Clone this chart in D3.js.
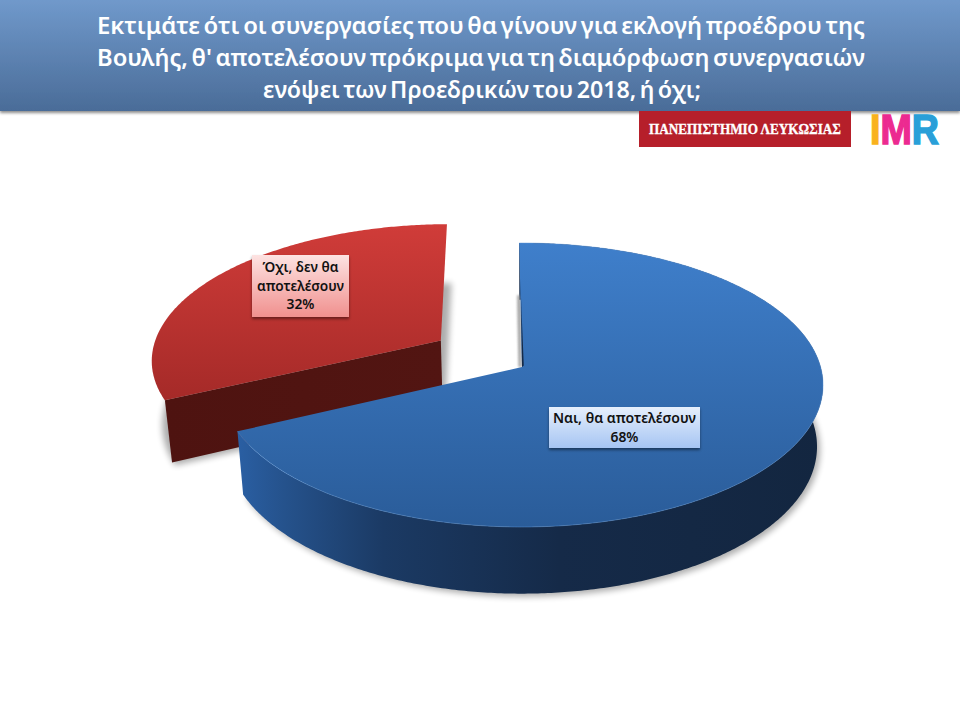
<!DOCTYPE html>
<html><head><meta charset="utf-8">
<script src="https://cdn.jsdelivr.net/npm/d3@7/dist/d3.min.js"></script>
<style>html,body{margin:0;padding:0;background:#fff}svg{display:block}</style>
</head><body><svg id="c" width="960" height="720"></svg>
<script>
const titleLines = ["Εκτιμάτε ότι οι συνεργασίες που θα γίνουν για εκλογή προέδρου της",
  "Βουλής, θ' αποτελέσουν πρόκριμα για τη διαμόρφωση συνεργασιών",
  "ενόψει των Προεδρικών του 2018, ή όχι;"];
const categories = ["Ναι, θα αποτελέσουν", "Όχι, δεν θα αποτελέσουν"];
const values = [68, 32];
const logoText = "ΠΑΝΕΠΙΣΤΗΜΙΟ ΛΕΥΚΩΣΙΑΣ";

const svg = d3.select("#c");
const defs = svg.append("defs");
function grad(id, stops, x2=0, y2=1){
  const g = defs.append("linearGradient").attr("id",id).attr("x1",0).attr("y1",0).attr("x2",x2).attr("y2",y2);
  stops.forEach(s=>g.append("stop").attr("offset",s[0]).attr("stop-color",s[1]));
}
grad("hdr",[[0,"#7099cb"],[1,"#4a6c98"]]);
grad("blueTop",[[0,"#3f7fcb"],[1,"#2a5c99"]]);
grad("redTop",[[0,"#d03c39"],[1,"#a52a28"]]);
grad("blueWall",[[0,"#2a5fa3"],[.08,"#25528c"],[.25,"#1b3a64"],[.55,"#152a48"],[1,"#132640"]],1,0);
grad("redWall",[[0,"#4e1310"],[1,"#521512"]],1,0);
grad("blueLab",[[0,"#e6effc"],[1,"#a6c5f3"]]);
grad("redLab",[[0,"#fde3e2"],[1,"#f0908e"]]);
grad("imrFill",[[0,"#f9b21e"],[.15,"#f9b21e"],[.15,"#ec2a90"],[.6,"#ec2a90"],[.6,"#2a9fd8"],[1,"#2a9fd8"]],1,0);
const sh=defs.append("filter").attr("id","blur").attr("x","-20%").attr("y","-20%").attr("width","140%").attr("height","140%");
sh.append("feGaussianBlur").attr("stdDeviation",3);
const sh2=defs.append("filter").attr("id","blur1").attr("x","-100%").attr("y","-20%").attr("width","300%").attr("height","140%");
sh2.append("feGaussianBlur").attr("stdDeviation",1);
const ds=defs.append("filter").attr("id","drop").attr("x","-20%").attr("y","-20%").attr("width","140%").attr("height","150%");
ds.append("feDropShadow").attr("dx",0).attr("dy",2).attr("stdDeviation",1.6).attr("flood-color","#000").attr("flood-opacity",.45);

// Header band
svg.append("rect").attr("x",0).attr("y",0).attr("width",960).attr("height",111).attr("fill","url(#hdr)").attr("filter","url(#drop)");
const titleWidths=[768,768,438], titleX=[481,481,482], titleY=[34,66,98];
svg.selectAll("text.t").data(titleLines).join("text").attr("class","t")
  .attr("x",(d,i)=>titleX[i]).attr("y",(d,i)=>titleY[i]).attr("text-anchor","middle")
  .attr("fill","#fff").attr("font-family","'Noto Sans',sans-serif").attr("font-weight",600).attr("font-size",23)
  .attr("word-spacing",-2.5)
  .attr("textLength",(d,i)=>titleWidths[i]).attr("lengthAdjust","spacingAndGlyphs").text(d=>d);

// Logos
svg.append("rect").attr("x",639).attr("y",111).attr("width",212).attr("height",36).attr("fill","#b61f2a");
svg.append("text").attr("x",745).attr("y",134).attr("text-anchor","middle").attr("fill","#fff").attr("stroke","#fff").attr("stroke-width",.3)
  .attr("font-family","'Liberation Serif',serif").attr("font-weight",700).attr("font-size",14.5)
  .attr("textLength",192).attr("lengthAdjust","spacingAndGlyphs").text(logoText);
svg.append("text").attr("x",870).attr("y",144).attr("fill","url(#imrFill)").attr("stroke","url(#imrFill)").attr("stroke-width",1.5)
   .attr("font-family","'Liberation Sans',sans-serif").attr("font-weight",700).attr("font-size",43)
   .attr("textLength",69).attr("lengthAdjust","spacingAndGlyphs").text("IMR");

// Perspective projection of a tilted disc
const CX=522, CY=367, X=298.6, K=139.7, P=0.1268, DEPTH=61, SHRINK=0.98;
const ROT=-0.6*Math.PI/180, EXPLODE=0.34, EXPL_SHIFT=3.2*Math.PI/180, RED_R=0.98;
function project(u,v,low){
  const d=1-P*v;
  let x=X*u/d, y=K*v/d;
  if(low){x*=SHRINK;y=y*SHRINK+DEPTH/d;}
  return [CX+x,CY+y];
}
const line=d3.line().curve(d3.curveLinear);
const arcs=d3.pie().sort(null).startAngle(ROT).endAngle(2*Math.PI+ROT)(values);
function pt(a,off,r,low){return project(off[0]+r*Math.sin(a),off[1]-r*Math.cos(a),low);}
function rim(a0,a1,off,r,low){
  const n=Math.max(2,Math.ceil(Math.abs(a1-a0)/0.01));
  return d3.range(n+1).map(i=>pt(a0+(a1-a0)*i/n,off,r,low));
}
const offset=d=>{
  if(d.index===0) return [0,0];
  const m=(d.startAngle+d.endAngle)/2+EXPL_SHIFT;
  return [EXPLODE*Math.sin(m),-EXPLODE*Math.cos(m)];
};
const fills=[["url(#blueTop)","url(#blueWall)"],["url(#redTop)","url(#redWall)"]];
const gPie=svg.append("g");
// exploded slice first, main slice on top
[arcs[1],arcs[0]].forEach(d=>{
  const off=offset(d), i=d.index, r=i===1?RED_R:1;
  const apexT=project(off[0],off[1],false), apexB=project(off[0],off[1],true);
  const a0=d.startAngle,a1=d.endAngle;
  const g=gPie.append("g");
  const top=rim(a0,a1,off,r,false);
  // soft ground shadow
  g.append("path").attr("d",line(rim(a0,a1,off,r,true).concat([apexB])))
    .attr("transform","translate(3,3)").attr("fill","#000").attr("opacity",.32).attr("filter","url(#blur)");
  if(i===1){
    g.append("path").attr("d",line([apexT,pt(a0,off,r,false),pt(a0,off,r,true),apexB])+"Z").attr("fill",fills[i][1]);
  } else {
    const wallT=rim(a0,a1,off,r,false), wallB=rim(a0,a1,off,r,true).reverse();
    g.append("path").attr("d",line(wallT.concat(wallB))+"Z").attr("fill",fills[i][1]);
    // gray shadow on the inside edge
    g.append("path").attr("d",line([project(-0.018,-0.55),project(-0.004,-0.55),project(-0.002,0),project(-0.012,0)])+"Z")
      .attr("fill","#888").attr("opacity",.7).attr("filter","url(#blur1)");
  }
  g.append("path").attr("d",line([apexT].concat(top))+"Z").attr("fill",fills[i][0]);
  if(i===0){
    // thin dark sliver of the inner cut face
    g.append("path").attr("d",line([project(-0.004,-0.55),project(0.006,-0.01),apexT])+"Z").attr("fill","#152a48");
    // faint highlight along the front rim
    g.append("path").attr("d",line(top)).attr("fill","none").attr("stroke","#5a94d8").attr("stroke-width",1).attr("opacity",.45);
  }
});

// Labels
const labelBoxes=[{x:549,y:407,w:151,h:41,grad:"url(#blueLab)",lines:[categories[0]],tw:[143],y0:16,dy:19},
 {x:252,y:255,w:97,h:62,grad:"url(#redLab)",lines:["Όχι, δεν θα","αποτελέσουν"],tw:[76,87],y0:17,dy:18.5}];
labelBoxes.forEach((b,i)=>{
  svg.append("rect").attr("x",b.x).attr("y",b.y).attr("width",b.w).attr("height",b.h).attr("fill",b.grad).attr("filter","url(#drop)");
  const ls=b.lines.concat([values[i]+"%"]);
  const tw=b.tw.concat([28]);
  ls.forEach((t,j)=>svg.append("text").attr("x",b.x+b.w/2).attr("y",b.y+b.y0+j*b.dy)
    .attr("text-anchor","middle").attr("fill","#111").attr("font-family","'Noto Sans',sans-serif").attr("font-weight",600).attr("font-size",14)
    .attr("textLength",tw[j]).attr("lengthAdjust","spacingAndGlyphs").text(t));
});
</script></body></html>
